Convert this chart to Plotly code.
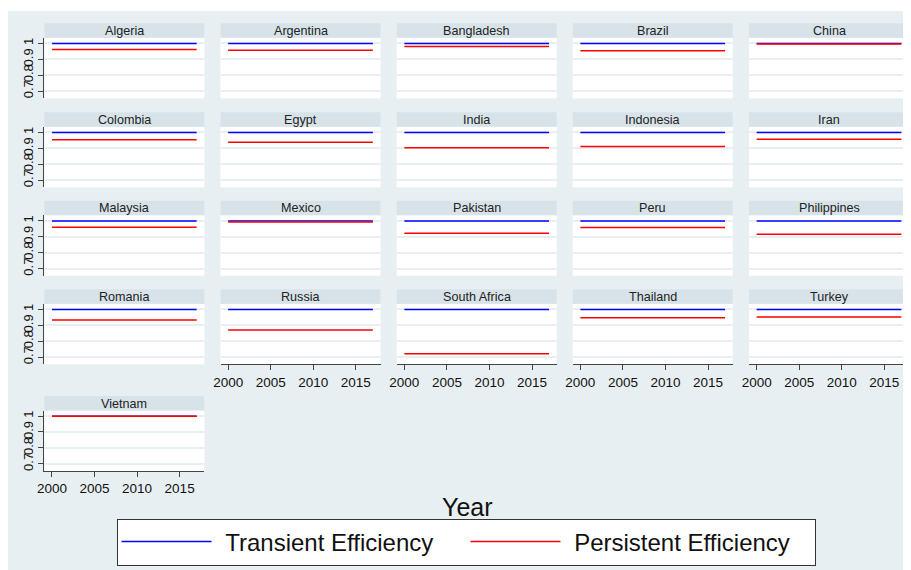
import plotly.graph_objects as go

# the html body adds an 8px margin, so the figure is 8px smaller and
# every reference pixel position gets shifted by 8
OFF = 8
W, H = 911 - OFF, 570 - OFF

countries = ["Algeria", "Argentina", "Bangladesh", "Brazil", "China",
             "Colombia", "Egypt", "India", "Indonesia", "Iran",
             "Malaysia", "Mexico", "Pakistan", "Peru", "Philippines",
             "Romania", "Russia", "South Africa", "Thailand", "Turkey",
             "Vietnam"]
transient = [0.999, 0.999, 0.999, 0.999, 0.999,
             0.999, 0.999, 0.999, 0.999, 0.999,
             0.999, 0.999, 0.999, 0.999, 0.999,
             0.999, 0.999, 0.999, 0.999, 0.999,
             0.999]
persistent = [0.962, 0.957, 0.980, 0.954, 0.996,
              0.953, 0.938, 0.904, 0.911, 0.957,
              0.960, 0.992, 0.921, 0.958, 0.915,
              0.933, 0.871, 0.721, 0.948, 0.952,
              0.999]
years = [2000, 2001, 2002, 2003, 2004, 2005, 2006, 2007, 2008,
         2009, 2010, 2011, 2012, 2013, 2014, 2015, 2016, 2017]
year_ticks = [2000, 2005, 2010, 2015]
eff_ticks = [0.7, 0.8, 0.9, 1]
eff_labels = ["0.7", "0.8", "0.9", "1"]

# panel geometry in reference pixels
col_left = [44.3, 220.5, 396.7, 572.7, 749.0]
row_top = [23.3, 112.3, 200.7, 289.3, 396.0]
panel_w = 160
strip_h = 14.5
plot_h = 60.5

BG = "#e8eff2"
STRIP = "#d8e3e9"
FONT = "Liberation Sans, Arial, sans-serif"


def px(x):
    return (x - OFF) / W


def py(y):
    return 1 - (y - OFF) / H


fig = go.Figure()
shapes = [
    # white strip on top of the graph region
    dict(type="rect", xref="paper", yref="paper", x0=0, x1=1, y0=py(11), y1=1,
         fillcolor="white", line_width=0, layer="below"),
]
annotations = []
axes = {}

for i, c in enumerate(countries):
    r, k = divmod(i, 5)
    n = "" if i == 0 else str(i + 1)
    x0 = col_left[k]
    y0 = row_top[r]

    shapes.append(dict(type="rect", xref="paper", yref="paper",
                       x0=px(x0), x1=px(x0 + panel_w),
                       y0=py(y0 + strip_h), y1=py(y0),
                       fillcolor=STRIP, line_width=0, layer="below"))
    annotations.append(dict(text=c, xref="paper", yref="paper",
                            x=px(x0 + panel_w / 2), y=py(y0 + strip_h / 2 + 0.5),
                            xanchor="center", yanchor="middle",
                            showarrow=False, font=dict(size=12.6, color="#222")))

    show_x = (r == 3 and k > 0) or r == 4
    show_y = k == 0

    fig.add_trace(go.Scatter(
        x=years, y=[transient[i]] * len(years),
        xaxis="x" + n, yaxis="y" + n, mode="lines",
        line=dict(color="#0000ff", width=1.5),
        name="\u00a0\u200aTransient Efficiency", legendgroup="t", showlegend=(i == 0)
    ))
    fig.add_trace(go.Scatter(
        x=years, y=[persistent[i]] * len(years),
        xaxis="x" + n, yaxis="y" + n, mode="lines",
        line=dict(color="#ff0000", width=1.5),
        name="\u00a0\u200aPersistent Efficiency", legendgroup="p", showlegend=(i == 0)
    ))

    axes["xaxis" + n] = dict(
        domain=[px(x0), px(x0 + panel_w)], anchor="y" + n,
        range=[1999.1, 2017.9], tickvals=year_ticks,
        showticklabels=show_x, ticks="outside" if show_x else "",
        ticklen=5, tickcolor="#444", showline=show_x, linecolor="#444", linewidth=1.2,
        showgrid=False, zeroline=False,
        tickfont=dict(size=13.5, color="#111")
    )
    axes["yaxis" + n] = dict(
        domain=[py(y0 + strip_h + plot_h), py(y0 + strip_h)], anchor="x" + n,
        range=[0.655, 1.035], tickvals=eff_ticks, ticktext=eff_labels, tickangle=-90,
        showticklabels=show_y, ticks="outside" if show_y else "",
        ticklen=5, tickcolor="#444", showline=show_y, linecolor="#444", linewidth=1.2,
        showgrid=True, gridcolor=BG, gridwidth=1.5, zeroline=False,
        tickfont=dict(size=13, color="#111")
    )

annotations.append(dict(text="Year", xref="paper", yref="paper",
                        x=px(467), y=py(507), xanchor="center", yanchor="middle",
                        showarrow=False, font=dict(size=25, color="#111")))

fig.update_layout(
    width=W, height=H,
    template="none",
    paper_bgcolor=BG,
    plot_bgcolor="white",
    margin=dict(l=0, r=0, t=0, b=0),
    font=dict(family=FONT, color="#111"),
    shapes=shapes,
    annotations=annotations,
    showlegend=True,
    legend=dict(
        orientation="h", x=px(466), xanchor="center", y=py(542), yanchor="middle",
        bgcolor="white", bordercolor="#333", borderwidth=1,
        font=dict(size=24, color="#111"), itemwidth=90,
        entrywidth=244, entrywidthmode="pixels",
    ),
    **axes
)

fig.write_html("out.html")
